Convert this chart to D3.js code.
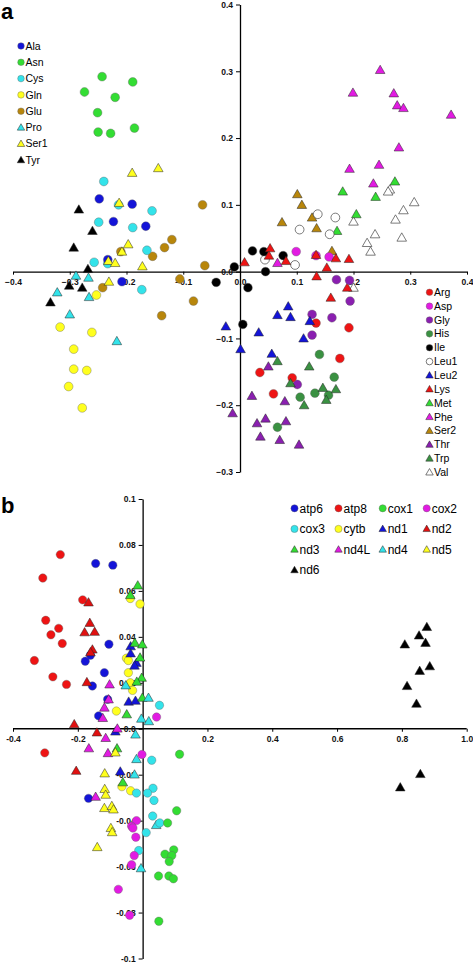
<!DOCTYPE html>
<html><head><meta charset="utf-8">
<script src="https://cdnjs.cloudflare.com/ajax/libs/d3/7.8.5/d3.min.js"></script>
<style>body{margin:0;background:#fff}svg{display:block}text{font-family:"Liberation Sans",Arial,sans-serif}</style>
</head><body><svg id="c" width="473" height="963"></svg>
<script>
// ---------- Panel a data ----------
const aXTicks = [-0.4,-0.3,-0.2,-0.1,0.0,0.1,0.2,0.3,0.4];
const aYTicks = [-0.3,-0.2,-0.1,0.0,0.1,0.2,0.3,0.4];
const aLeftLegend = ["Ala","Asn","Cys","Gln","Glu","Pro","Ser1","Tyr"];
const aRightLegend = ["Arg","Asp","Gly","His","Ile","Leu1","Leu2","Lys","Met","Phe","Ser2","Thr","Trp","Val"];

const ala = [[-0.248,0.109],[-0.190,0.101],[-0.223,0.075],[-0.166,0.068],[-0.233,0.018],[-0.208,-0.015]];
const asn = [[-0.243,0.292],[-0.189,0.284],[-0.274,0.269],[-0.220,0.261],[-0.251,0.238],[-0.186,0.215],[-0.250,0.209],[-0.228,0.207]];
const cys = [[-0.240,0.135],[-0.214,0.100],[-0.155,0.091],[-0.249,0.074],[-0.189,0.066],[-0.164,0.032],[-0.257,0.014],[-0.233,0.012],[-0.173,-0.027]];
const gln = [[-0.253,-0.035],[-0.317,-0.083],[-0.261,-0.091],[-0.293,-0.116],[-0.293,-0.146],[-0.270,-0.148],[-0.302,-0.172],[-0.278,-0.204]];
const glu = [[-0.066,0.100],[-0.120,0.048],[-0.133,0.036],[-0.210,0.030],[-0.154,0.023],[-0.062,0.009],[-0.106,-0.011],[-0.242,-0.024],[-0.082,-0.044],[-0.138,-0.066]];
const pro = [[-0.289,-0.006],[-0.267,-0.009],[-0.322,-0.031],[-0.266,-0.038],[-0.300,-0.064],[-0.217,-0.104]];
const ser1 = [[-0.190,0.148],[-0.144,0.155],[-0.213,0.103],[-0.197,0.041],[-0.208,0.030],[-0.232,0.016],[-0.220,0.013],[-0.172,0.008],[-0.231,-0.015]];
const tyr = [[-0.284,0.093],[-0.260,0.061],[-0.293,0.036],[-0.268,0.004],[-0.301,-0.021],[-0.278,-0.024],[-0.334,-0.046]];
const arg = [[0.134,-0.077],[0.192,-0.084],[0.176,-0.130],[0.035,-0.151],[0.092,-0.159],[0.059,-0.183]];
const asp = [[0.099,0.030],[0.134,0.024],[0.157,0.022]];
const gly = [[0.170,-0.012],[0.193,-0.013],[0.194,-0.044],[0.127,-0.064],[0.162,-0.069],[0.127,-0.095],[0.101,-0.169]];
const his = [[0.140,-0.124],[0.166,-0.158],[0.132,-0.182],[0.156,-0.185],[0.106,-0.188],[0.066,-0.233]];
const ile = [[-0.042,-0.016],[-0.010,0.007],[0.022,0.031],[0.042,0.030],[0.076,0.024],[0.045,0.000],[0.014,-0.024],[0.005,-0.079]];
const leu1 = [[0.137,0.086],[0.168,0.081],[0.105,0.063],[0.158,0.056],[0.044,0.018],[0.097,0.010]];
const leu2 = [[0.085,-0.052],[0.066,-0.065],[0.089,-0.068],[0.123,-0.074],[-0.025,-0.082],[0.033,-0.091],[0.112,-0.100],[0.001,-0.116],[0.056,-0.123]];
const lys = [[0.053,0.035],[0.134,0.025],[0.169,0.020],[0.192,0.019],[0.051,0.024],[0.081,0.016],[0.008,0.014],[0.153,0.006],[0.135,-0.007],[0.189,-0.024],[0.160,-0.039]];
const met = [[0.273,0.135],[0.181,0.120],[0.239,0.112],[0.205,0.086],[0.171,0.061]];
const phe = [[0.247,0.302],[0.199,0.268],[0.271,0.267],[0.277,0.249],[0.288,0.245],[0.372,0.235],[0.280,0.186],[0.193,0.154],[0.245,0.160],[0.235,0.132],[0.066,0.013]];
const ser2 = [[0.101,0.116],[0.109,0.100],[0.074,0.074],[0.127,0.081],[0.135,0.065],[0.162,0.031]];
const thr = [[0.050,-0.142],[0.021,-0.186],[0.079,-0.194],[-0.013,-0.212],[0.045,-0.220],[0.030,-0.227],[0.081,-0.224],[0.036,-0.247],[0.070,-0.252],[0.104,-0.259]];
const trp = [[0.066,-0.134],[0.122,-0.142],[0.089,-0.167],[0.146,-0.174],[0.169,-0.176],[0.152,-0.192],[0.113,-0.200]];
const val = [[0.264,0.123],[0.261,0.120],[0.307,0.104],[0.288,0.092],[0.200,0.075],[0.274,0.078],[0.238,0.056],[0.285,0.051],[0.224,0.043],[0.230,0.030],[0.200,-0.024]];

// ---------- Panel b data ----------
const bXTicks = [-0.4,-0.2,0.2,0.4,0.6,0.8,1.0];
const bXLabels = ["-0.4","-0.2","0.2","0.4","0.6","0.8","1.0"];
const bYTicks = [-0.1,-0.08,-0.06,-0.04,-0.02,0.0,0.02,0.04,0.06,0.08,0.1];
const bYLabels = ["-0.1","-0.08","-0.06","-0.04","-0.02","0.0","0.02","0.04","0.06","0.08","0.1"];
const bLegend = ["atp6","atp8","cox1","cox2","cox3","cytb","nd1","nd2","nd3","nd4L","nd4","nd5","nd6"];

const atp6 = [[-0.145,0.0719],[-0.092,0.0712],[-0.104,0.0368],[-0.177,0.0294],[-0.161,0.0320],[-0.118,0.0244],[-0.155,0.0186],[-0.108,0.0128],[-0.136,0.0056],[-0.167,-0.0303]];
const atp8 = [[-0.254,0.0758],[-0.308,0.0656],[-0.185,0.0561],[-0.299,0.0472],[-0.259,0.0437],[-0.283,0.0409],[-0.248,0.0371],[-0.334,0.0297],[-0.277,0.0226],[-0.235,0.0193],[-0.302,-0.0105]];
const cox1 = [[0.114,-0.0111],[0.105,-0.0357],[0.077,-0.0410],[0.096,-0.0527],[0.069,-0.0546],[0.090,-0.0552],[0.082,-0.0578],[0.049,-0.0641],[0.081,-0.0641],[0.095,-0.0653],[0.050,-0.0838]];
const cox2 = [[0.043,0.0051],[-0.002,-0.0112],[-0.019,-0.0400],[-0.034,-0.0424],[-0.030,-0.0432],[-0.021,-0.0472],[-0.026,-0.0552],[-0.034,-0.0592],[-0.075,-0.0699],[-0.040,-0.0812]];
const cox3 = [[0.052,0.0102],[0.028,-0.0137],[0.032,-0.0259],[-0.019,-0.0280],[0.015,-0.0280],[0.035,-0.0312],[0.031,-0.0380],[0.053,-0.0410],[0.011,-0.0452],[-0.012,-0.0530]];
const cytb = [[-0.038,0.0567],[-0.008,0.0543],[-0.050,0.0307],[-0.044,0.0297],[-0.044,0.0244],[-0.038,0.0200],[-0.031,0.0167],[-0.081,0.0077],[-0.064,-0.0252],[-0.037,-0.0270]];
const nd1 = [[-0.037,0.0359],[-0.037,0.0328],[-0.019,0.0287],[-0.025,0.0275],[-0.043,0.0118],[-0.022,0.0122],[-0.084,-0.0012],[-0.069,-0.0186]];
const nd2 = [[-0.167,0.0550],[-0.163,0.0461],[-0.179,0.0420],[-0.148,0.0422],[-0.155,0.0345],[-0.161,0.0333],[-0.172,0.0203],[-0.211,0.0020],[-0.141,-0.0016],[-0.205,-0.0183]];
const nd3 = [[-0.015,0.0624],[-0.038,0.0582],[-0.024,0.0374],[-0.001,0.0367],[-0.008,0.0310],[-0.003,0.0222],[-0.018,0.0205],[-0.001,0.0135],[-0.049,0.0063],[-0.079,-0.0085],[-0.061,-0.0233]];
const nd4L = [[-0.102,0.0193],[-0.105,0.0128],[-0.118,0.0092],[-0.123,0.0047],[-0.078,0.0001],[-0.114,-0.0040],[-0.166,-0.0085],[-0.107,-0.0106],[-0.145,-0.0296]];
const nd4 = [[-0.052,0.0189],[0.018,0.0135],[-0.004,0.0044],[0.019,0.0033],[-0.022,-0.0025],[-0.019,-0.0132],[-0.025,-0.0199],[0.042,-0.0419],[-0.005,-0.0607]];
const nd5 = [[-0.084,-0.0103],[-0.117,-0.0194],[-0.117,-0.0262],[-0.114,-0.0287],[-0.118,-0.0345],[-0.095,-0.0336],[-0.090,-0.0351],[-0.098,-0.0432],[-0.094,-0.0450],[-0.140,-0.0515]];
const nd6 = [[0.877,0.0443],[0.853,0.0406],[0.809,0.0367],[0.873,0.0374],[0.886,0.0272],[0.855,0.0252],[0.816,0.0186],[0.845,0.0109],[0.857,-0.0197],[0.795,-0.0255]];

// ---------- styles ----------
const C = {blue:"#1414d8", green:"#33dd33", cyan:"#33e3ea", yellow:"#ffff1e", gold:"#b8860b",
  black:"#000", red:"#ee1414", magenta:"#e21be2", purple:"#8a1fb0", dgreen:"#3a9142", white:"#fff"};
const styleA = {
  Ala:["c",C.blue], Asn:["c",C.green], Cys:["c",C.cyan], Gln:["c",C.yellow], Glu:["c",C.gold],
  Pro:["t",C.cyan], Ser1:["t",C.yellow], Tyr:["t",C.black],
  Arg:["c",C.red], Asp:["c",C.magenta], Gly:["c",C.purple], His:["c",C.dgreen], Ile:["c",C.black],
  Leu1:["c",C.white], Leu2:["t",C.blue], Lys:["t",C.red], Met:["t",C.green], Phe:["t",C.magenta],
  Ser2:["t",C.gold], Thr:["t",C.purple], Trp:["t",C.dgreen], Val:["t",C.white]};
const styleB = {
  atp6:["c",C.blue], atp8:["c",C.red], cox1:["c",C.green], cox2:["c",C.magenta], cox3:["c",C.cyan],
  cytb:["c",C.yellow], nd1:["t",C.blue], nd2:["t","#e01010"], nd3:["t",C.green], nd4L:["t",C.magenta],
  nd4:["t",C.cyan], nd5:["t",C.yellow], nd6:["t",C.black]};

const seriesA = [["Asn",asn],["Gln",gln],["Glu",glu],["Cys",cys],["Ala",ala],["Pro",pro],["Tyr",tyr],["Ser1",ser1],
  ["Phe",phe],["Val",val],["Met",met],["Ser2",ser2],["Leu1",leu1],["Ile",ile],["Asp",asp],["Lys",lys],
  ["Gly",gly],["Arg",arg],["Leu2",leu2],["His",his],["Trp",trp],["Thr",thr]];
const seriesB = [["atp8",atp8],["atp6",atp6],["nd2",nd2],["cytb",cytb],["nd1",nd1],["nd3",nd3],["nd4L",nd4L],
  ["nd4",nd4],["cox3",cox3],["cox2",cox2],["cox1",cox1],["nd5",nd5],["nd6",nd6]];

const svg = d3.select("#c");
const triPath = d3.symbol().type(d3.symbolTriangle).size(40)();
const triSmall = d3.symbol().type(d3.symbolTriangle).size(24)();

function marker(g, st, x, y, r, small){
  if(st[0]==="c"){
    g.append("circle").attr("cx",x).attr("cy",y).attr("r",r)
      .attr("fill",st[1]).attr("stroke", st[1]===C.white ? "#444" : "#666").attr("stroke-width", st[1]===C.white?0.7:0.4);
  } else {
    g.append("path").attr("d", small?triSmall:triPath).attr("transform",`translate(${x},${y+ (small?0.5:0.8)})`)
      .attr("fill",st[1]).attr("stroke", st[1]===C.white ? "#444" : "#222").attr("stroke-width", st[1]===C.white?0.7:0.5);
  }
}

function styleAxis(g){
  g.select(".domain").attr("stroke","#000").attr("stroke-width",1.3);
  g.selectAll(".tick line").attr("stroke","#000").attr("stroke-width",1);
  g.selectAll(".tick text").attr("font-size","8.5px").attr("font-weight","bold").attr("fill","#111")
    .attr("font-family",'"Liberation Sans",Arial,sans-serif');
}

// ---------- Panel a ----------
const xa = d3.scaleLinear().domain([-0.4,0.4]).range([13,467]);
const ya = d3.scaleLinear().domain([-0.3,0.4]).range([472,4.5]);
const gAx = svg.append("g").attr("transform",`translate(0,${ya(0)})`)
  .call(d3.axisBottom(xa).tickValues(aXTicks).tickFormat(d3.format(".1f")).tickSize(3).tickSizeOuter(0).tickPadding(4));
styleAxis(gAx);
const gAy = svg.append("g").attr("transform",`translate(${xa(0)},0)`)
  .call(d3.axisLeft(ya).tickValues(aYTicks).tickFormat(d3.format(".1f")).tickSize(4).tickSizeOuter(0).tickPadding(3));
styleAxis(gAy);

const gA = svg.append("g");
seriesA.forEach(([name,data])=>{
  data.forEach(d=>marker(gA, styleA[name], xa(d[0]), ya(d[1]), 4.4, false));
});

svg.append("text").attr("x",1).attr("y",19).attr("font-size","22px").attr("font-weight","bold").text("a");

const gLA = svg.append("g");
aLeftLegend.forEach((n,i)=>{
  const y = 46 + i*16.3;
  marker(gLA, styleA[n], 21, y, 3.3, true);
  gLA.append("text").attr("x",25.5).attr("y",y+3.6).attr("font-size","10.5px").text(n);
});
aRightLegend.forEach((n,i)=>{
  const y = 292.3 + i*13.85;
  marker(gLA, styleA[n], 429.5, y, 3.3, true);
  gLA.append("text").attr("x",434).attr("y",y+3.6).attr("font-size","10.5px").text(n);
});

// ---------- Panel b ----------
const xb = d3.scaleLinear().domain([-0.4,1.0]).range([13,466.7]);
const yb = d3.scaleLinear().domain([-0.1,0.1]).range([958.5,499]);
const gBx = svg.append("g").attr("transform",`translate(0,${yb(0)})`)
  .call(d3.axisBottom(xb).tickValues(bXTicks).tickFormat((d,i)=>bXLabels[i]).tickSize(3).tickSizeOuter(0).tickPadding(4));
styleAxis(gBx);
gBx.select(".domain").attr("d",`M${xb(-0.4)},0H${xb(1.0)}`);
const gBy = svg.append("g").attr("transform",`translate(${xb(0)},0)`)
  .call(d3.axisLeft(yb).tickValues(bYTicks).tickFormat((d,i)=>bYLabels[i]).tickSize(4).tickSizeOuter(0).tickPadding(3));
styleAxis(gBy);

const gB = svg.append("g");
seriesB.forEach(([name,data])=>{
  data.forEach(d=>marker(gB, styleB[name], xb(d[0]), yb(d[1]), 4.2, false));
});

svg.append("text").attr("x",1).attr("y",513).attr("font-size","22px").attr("font-weight","bold").text("b");

const gLB = svg.append("g");
const colX = [294.5,338.5,382.7,426.7];
bLegend.forEach((n,i)=>{
  const x = colX[i%4], y = 508.3 + Math.floor(i/4)*20.6;
  marker(gLB, styleB[n], x, y, 3.6, true);
  gLB.append("text").attr("x",x+5).attr("y",y+4.3).attr("font-size","12px").text(n);
});
</script>
</body></html>
